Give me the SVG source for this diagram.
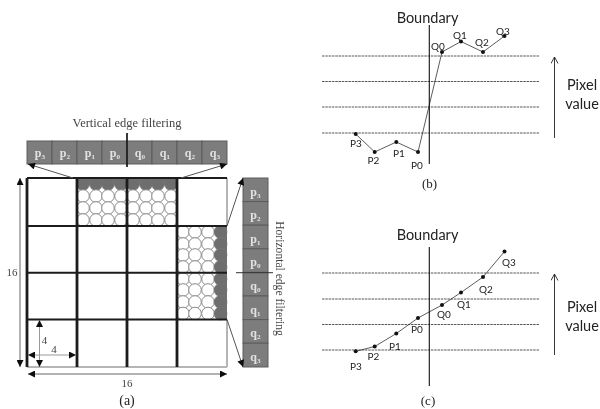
<svg xmlns="http://www.w3.org/2000/svg" width="600" height="409" viewBox="0 0 600 409">
<style>
.t{font-family:"Liberation Serif",serif;fill:#444}
.s{font-family:Lato,"Noto Sans",sans-serif;fill:#222}
.m{text-anchor:middle}
.cell{fill:#7d7d7d;stroke:#5c5c5c;stroke-width:1}
.cl{font-family:"Liberation Serif",serif;font-size:12px;fill:#e2e2e2;text-anchor:middle;font-weight:bold}
.g{stroke:#1c1c1c;stroke-width:2;fill:none}
.v{stroke:#1c1c1c;stroke-width:2.8;fill:none}
.lg{stroke:#b5b5b5;stroke-width:2;fill:none}
.w{fill:#fff;stroke:#8a8a8a;stroke-width:1}
.d{fill:#6e6e6e;stroke:#777;stroke-width:.6}
.dash{stroke:#444;stroke-width:.9;stroke-dasharray:2.5 .8;fill:none}
.curve{stroke:#333;stroke-width:.8;fill:none}
.bd{stroke:#111;stroke-width:1.1;fill:none}
.dim{stroke:#999;stroke-width:1.5;fill:none}
.dim2{stroke:#999;stroke-width:1;fill:none}
.zoom{stroke:#555;stroke-width:1;fill:none}
</style>
<defs>
<marker id="ah" viewBox="0 0 8 8" refX="8" refY="4" markerWidth="8" markerHeight="7" markerUnits="userSpaceOnUse" orient="auto-start-reverse"><path d="M0 0L8 4L0 8z" fill="#111"/></marker>
<marker id="open" viewBox="0 0 8 8" refX="7.5" refY="4" markerWidth="8" markerHeight="8" markerUnits="userSpaceOnUse" orient="auto"><path d="M1 .5L7.5 4L1 7.5" fill="none" stroke="#222" stroke-width=".9"/></marker>
<filter id="b" x="-5%" y="-5%" width="110%" height="110%"><feGaussianBlur stdDeviation="0.5"/></filter>
<circle id="cw" r="6.300" class="w"/>
<circle id="cd" r="6.500" class="d"/>
</defs>
<g id="panel-a" filter="url(#b)">
<g id="circles-top">
<rect x="77" y="178" width="100" height="7" fill="#6e6e6e"/>
<use href="#cd" x="83" y="184"/><use href="#cd" x="96" y="184"/><use href="#cd" x="108" y="184"/><use href="#cd" x="121" y="184"/><use href="#cd" x="133" y="184"/><use href="#cd" x="146" y="184"/><use href="#cd" x="158" y="184"/><use href="#cd" x="171" y="184"/>
<use href="#cw" x="83" y="196"/><use href="#cw" x="96" y="196"/><use href="#cw" x="108" y="196"/><use href="#cw" x="121" y="196"/><use href="#cw" x="133" y="196"/><use href="#cw" x="146" y="196"/><use href="#cw" x="158" y="196"/><use href="#cw" x="171" y="196"/>
<use href="#cw" x="83" y="208"/><use href="#cw" x="96" y="208"/><use href="#cw" x="108" y="208"/><use href="#cw" x="121" y="208"/><use href="#cw" x="133" y="208"/><use href="#cw" x="146" y="208"/><use href="#cw" x="158" y="208"/><use href="#cw" x="171" y="208"/>
<use href="#cw" x="83" y="220"/><use href="#cw" x="96" y="220"/><use href="#cw" x="108" y="220"/><use href="#cw" x="121" y="220"/><use href="#cw" x="133" y="220"/><use href="#cw" x="146" y="220"/><use href="#cw" x="158" y="220"/><use href="#cw" x="171" y="220"/>
</g>
<g id="circles-right">
<rect x="220" y="226" width="7" height="93.500" fill="#6e6e6e"/>
<use href="#cw" x="183" y="232"/><use href="#cw" x="195" y="232"/><use href="#cw" x="208" y="232"/><use href="#cd" x="220.500" y="232"/>
<use href="#cw" x="183" y="244"/><use href="#cw" x="195" y="244"/><use href="#cw" x="208" y="244"/><use href="#cd" x="220.500" y="244"/>
<use href="#cw" x="183" y="255"/><use href="#cw" x="195" y="255"/><use href="#cw" x="208" y="255"/><use href="#cd" x="220.500" y="255"/>
<use href="#cw" x="183" y="267"/><use href="#cw" x="195" y="267"/><use href="#cw" x="208" y="267"/><use href="#cd" x="220.500" y="267"/>
<use href="#cw" x="183" y="279"/><use href="#cw" x="195" y="279"/><use href="#cw" x="208" y="279"/><use href="#cd" x="220.500" y="279"/>
<use href="#cw" x="183" y="290"/><use href="#cw" x="195" y="290"/><use href="#cw" x="208" y="290"/><use href="#cd" x="220.500" y="290"/>
<use href="#cw" x="183" y="302"/><use href="#cw" x="195" y="302"/><use href="#cw" x="208" y="302"/><use href="#cd" x="220.500" y="302"/>
<use href="#cw" x="183" y="313.500"/><use href="#cw" x="195" y="313.500"/><use href="#cw" x="208" y="313.500"/><use href="#cd" x="220.500" y="313.500"/>
</g>
<g id="grid">
<path class="lg" d="M227 178V226M27 367H227M227 319.500V367"/>
<path class="g" d="M27 178H227M27 226H227M27 272.700H227M27 319.500H227"/>
<path class="v" d="M27 178V367M77 178V367M127 178V367M177 178V367"/>
</g>
<g id="strip-top">
<rect class="cell" x="27" y="141" width="25" height="23"/><rect class="cell" x="52" y="141" width="25" height="23"/><rect class="cell" x="77" y="141" width="25" height="23"/><rect class="cell" x="102" y="141" width="25" height="23"/><rect class="cell" x="127" y="141" width="25" height="23"/><rect class="cell" x="152" y="141" width="25" height="23"/><rect class="cell" x="177" y="141" width="25" height="23"/><rect class="cell" x="202" y="141" width="25" height="23"/>
<text class="cl" x="40" y="157">p₃</text><text class="cl" x="65" y="157">p₂</text><text class="cl" x="90" y="157">p₁</text><text class="cl" x="115" y="157">p₀</text><text class="cl" x="140" y="157">q₀</text><text class="cl" x="165" y="157">q₁</text><text class="cl" x="190" y="157">q₂</text><text class="cl" x="215" y="157">q₃</text>
<path d="M127 133V167" stroke="#222" stroke-width="1.8"/>
</g>
<g id="strip-right">
<rect class="cell" x="243" y="178" width="25" height="23.600"/><rect class="cell" x="243" y="201.600" width="25" height="23.600"/><rect class="cell" x="243" y="225.200" width="25" height="23.600"/><rect class="cell" x="243" y="248.800" width="25" height="23.600"/><rect class="cell" x="243" y="272.400" width="25" height="23.600"/><rect class="cell" x="243" y="296" width="25" height="23.600"/><rect class="cell" x="243" y="319.600" width="25" height="23.600"/><rect class="cell" x="243" y="343.200" width="25" height="23.800"/>
<text class="cl" x="255.500" y="196">p₃</text><text class="cl" x="255.500" y="219">p₂</text><text class="cl" x="255.500" y="243">p₁</text><text class="cl" x="255.500" y="266">p₀</text><text class="cl" x="255.500" y="290">q₀</text><text class="cl" x="255.500" y="314">q₁</text><text class="cl" x="255.500" y="337">q₂</text><text class="cl" x="255.500" y="361">q₃</text>
<path d="M236 272.700H273" stroke="#333" stroke-width="1"/>
</g>
<g id="connectors-a">
<path class="zoom" d="M73 178L28 164" marker-end="url(#ah)"/>
<path class="zoom" d="M181 178L227 164" marker-end="url(#ah)"/>
<path class="zoom" d="M227 226L243 178" marker-end="url(#ah)"/>
<path class="zoom" d="M227 319.500L243 367" marker-end="url(#ah)"/>
<path class="dim" d="M20 178V367" marker-start="url(#ah)" marker-end="url(#ah)"/>
<path class="dim" d="M28 374H227" marker-start="url(#ah)" marker-end="url(#ah)"/>
<path class="dim2" d="M39.500 320V367" marker-start="url(#ah)" marker-end="url(#ah)"/>
<path class="dim2" d="M28 355H76" marker-start="url(#ah)" marker-end="url(#ah)"/>
</g>
<text class="t m" x="127" y="127" font-size="12.500">Vertical edge filtering</text>
<text class="t m" font-size="11.600" transform="translate(276 278.500) rotate(90)">Horizontal edge filtering</text>
<text class="t m" x="12" y="276" font-size="11">16</text>
<text class="t m" x="127" y="387" font-size="11">16</text>
<text class="t m" x="44.500" y="344" font-size="11">4</text>
<text class="t m" x="54" y="353" font-size="11">4</text>
</g>
<text class="t m" x="127" y="405" font-size="14" style="fill:#222">(a)</text>
<g id="chart-b">
<path class="dash" d="M322 56H539M322 81.500H539M322 107H539M322 133H539"/>
<path class="curve" d="M355.700 134L374.700 152L396.300 142L418 152L442 52L461 41.500L483 52L504.500 36"/>
<path class="bd" d="M429.300 25V164"/>
<path d="M554.500 138V57" stroke="#222" stroke-width=".9" fill="none" marker-end="url(#open)"/>
<g fill="#111"><circle cx="355.700" cy="134" r="2"/><circle cx="374.700" cy="152" r="2"/><circle cx="396.300" cy="142" r="2"/><circle cx="418" cy="152" r="2"/><circle cx="442" cy="52" r="2"/><circle cx="461" cy="41.500" r="2"/><circle cx="483" cy="52" r="2"/><circle cx="504.500" cy="36" r="2"/></g>
<g class="s m" font-size="10"><text x="356" y="146.500">P3</text><text x="373.500" y="163.500">P2</text><text x="399" y="156.500">P1</text><text x="417" y="168.500">P0</text><text x="438" y="49.500">Q0</text><text x="460" y="38.500">Q1</text><text x="482" y="45.500">Q2</text><text x="503" y="34.500">Q3</text></g>
<text class="s m" x="427.500" y="23" font-size="14.500">Boundary</text>
<text class="s m" x="582" y="90" font-size="14.500">Pixel</text>
<text class="s m" x="582" y="109" font-size="14.500">value</text>
<text class="t m" x="429.500" y="188" font-size="13" style="fill:#222">(b)</text>
</g>
<g id="chart-c">
<path class="dash" d="M322 273H539M322 299H539M322 324.500H539M322 350H539"/>
<path class="curve" d="M355.700 351.300L374.700 346.500L396.300 333.500L418 318L442 305L461 292.500L483 277L504.500 251.500"/>
<path class="bd" d="M429.300 247V386"/>
<path d="M554.500 355V274" stroke="#222" stroke-width=".9" fill="none" marker-end="url(#open)"/>
<g fill="#111"><circle cx="355.700" cy="351.300" r="2"/><circle cx="374.700" cy="346.500" r="2"/><circle cx="396.300" cy="333.500" r="2"/><circle cx="418" cy="318" r="2"/><circle cx="442" cy="305" r="2"/><circle cx="461" cy="292.500" r="2"/><circle cx="483" cy="277" r="2"/><circle cx="504.500" cy="251.500" r="2"/></g>
<g class="s m" font-size="10"><text x="356" y="369.500">P3</text><text x="373.500" y="359.500">P2</text><text x="395" y="349.500">P1</text><text x="417" y="332.500">P0</text><text x="444" y="317.500">Q0</text><text x="464" y="307.500">Q1</text><text x="486" y="292.500">Q2</text><text x="509" y="265.500">Q3</text></g>
<text class="s m" x="427.500" y="240" font-size="14.500">Boundary</text>
<text class="s m" x="582" y="312" font-size="14.500">Pixel</text>
<text class="s m" x="582" y="331" font-size="14.500">value</text>
<text class="t m" x="428" y="405" font-size="13" style="fill:#222">(c)</text>
</g>
</svg>
